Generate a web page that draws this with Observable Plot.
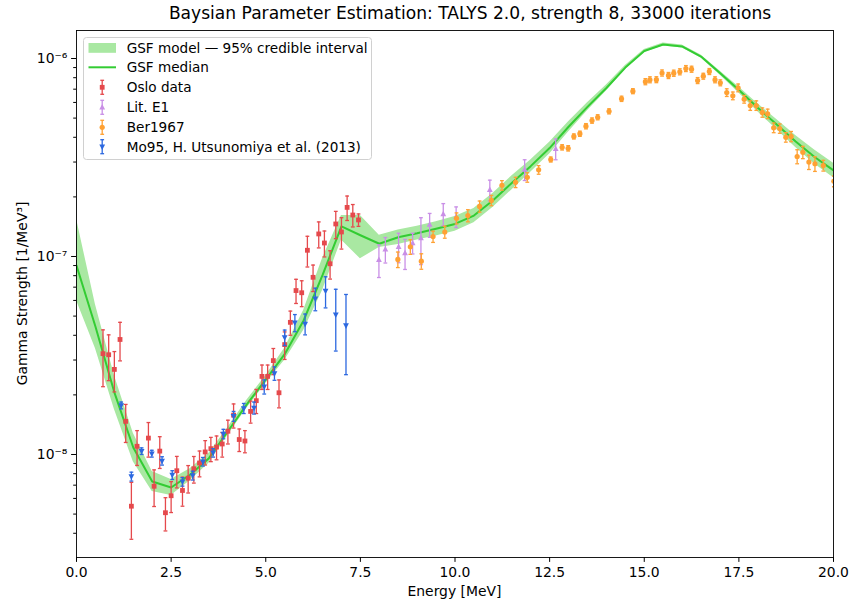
<!DOCTYPE html>
<html><head><meta charset="utf-8">
<script src="https://cdn.jsdelivr.net/npm/d3@7"></script>
<script src="https://cdn.jsdelivr.net/npm/@observablehq/plot@0.6"></script>
<style>
body{margin:0;background:#fff;font-family:"DejaVu Sans",sans-serif;}
#title{position:relative;height:22px;width:852px;}
#title span{position:absolute;left:470px;top:5px;transform:translateX(-50%);font-size:17.1px;white-space:nowrap;color:#000;line-height:1;}
</style></head><body>
<div id="title"><span>Baysian Parameter Estimation: TALYS 2.0, strength 8, 33000 iterations</span></div>
<div id="chart"></div>
<script>
// ---- Model (GSF) on energy grid ----
const modelE = [0,0.5,1,1.5,2,2.5,3,3.5,4,4.5,5,5.5,6,6.5,7,7.5,8,8.5,9,9.5,10,10.5,11,11.5,12,12.5,13,13.5,14,14.5,15,15.5,16,16.5,17,17.5,18,18.5,19,19.5,20];
const modelMed = [9.0e-8,4.43e-8,2.06e-8,1.085e-8,7.3e-9,6.81e-9,7.9e-9,9.58e-9,1.31e-8,1.79e-8,2.39e-8,3.21e-8,4.75e-8,8.05e-8,1.42e-7,1.28e-7,1.16e-7,1.25e-7,1.31e-7,1.38e-7,1.46e-7,1.61e-7,1.92e-7,2.35e-7,2.86e-7,3.53e-7,4.52e-7,5.70e-7,7.1e-7,9.0e-7,1.091e-6,1.177e-6,1.15e-6,1.023e-6,8.45e-7,6.93e-7,5.64e-7,4.64e-7,3.81e-7,3.18e-7,2.72e-7];
const modelLo = [6.0e-8,3.43e-8,1.69e-8,9.2e-9,6.5e-9,6.2e-9,7.37e-9,9.04e-9,1.25e-8,1.71e-8,2.28e-8,2.99e-8,4.23e-8,6.74e-8,1.21e-7,9.74e-8,1.11e-7,1.15e-7,1.21e-7,1.27e-7,1.34e-7,1.48e-7,1.77e-7,2.17e-7,2.66e-7,3.29e-7,4.26e-7,5.44e-7,6.86e-7,8.79e-7,1.072e-6,1.156e-6,1.13e-6,1.005e-6,8.25e-7,6.70e-7,5.38e-7,4.38e-7,3.55e-7,2.93e-7,2.50e-7];
const modelHi = [1.55e-7,5.72e-8,2.51e-8,1.28e-8,8.2e-9,7.48e-9,8.47e-9,1.015e-8,1.37e-8,1.88e-8,2.50e-8,3.44e-8,5.34e-8,9.77e-8,1.61e-7,1.61e-7,1.28e-7,1.36e-7,1.42e-7,1.50e-7,1.59e-7,1.75e-7,2.08e-7,2.55e-7,3.07e-7,3.78e-7,4.79e-7,5.97e-7,7.35e-7,9.22e-7,1.11e-6,1.198e-6,1.17e-6,1.041e-6,8.65e-7,7.17e-7,5.91e-7,4.92e-7,4.08e-7,3.45e-7,2.96e-7];

// ---- Oslo data ----
const osloE = [0.70,0.85,1.00,1.15,1.30,1.45,1.60,1.90,2.05,2.20,2.35,2.50,2.65,2.80,2.95,3.10,3.25,3.40,3.55,3.70,3.85,4.00,4.15,4.30,4.45,4.60,4.75,4.90,5.05,5.20,5.35,5.50,5.65,5.80,5.95,6.10,6.25,6.40,6.55,6.70,6.85,7.00,7.15,7.30,7.45];
const osloV = [3.23e-8,3.19e-8,2.69e-8,3.81e-8,1.47e-8,5.48e-9,1.10e-8,1.21e-8,6.91e-9,1.04e-8,5.08e-9,6.19e-9,8.28e-9,6.58e-9,7.59e-9,8.47e-9,9.06e-9,1.03e-8,1.07e-8,1.09e-8,1.13e-8,1.31e-8,1.58e-8,1.19e-8,1.17e-8,1.65e-8,1.87e-8,2.48e-8,2.48e-8,2.98e-8,2.05e-8,3.59e-8,4.65e-8,6.73e-8,6.56e-8,1.075e-7,7.85e-8,1.30e-7,1.17e-7,9.19e-8,1.46e-7,1.33e-7,1.77e-7,1.62e-7,1.53e-7];
const osloErr = [1.03e-8,8.3e-9,6.2e-9,8.4e-9,3.2e-9,1.75e-9,2.2e-9,2.4e-9,1.45e-9,1.9e-9,9.7e-10,1.1e-9,1.5e-9,1.1e-9,1.2e-9,1.3e-9,1.35e-9,1.45e-9,1.5e-9,1.5e-9,1.6e-9,1.8e-9,2.2e-9,1.55e-9,1.5e-9,2.1e-9,2.6e-9,3.5e-9,3.5e-9,4.5e-9,3.3e-9,5.7e-9,6.5e-9,9.4e-9,9.8e-9,1.9e-8,1.2e-8,1.95e-8,1.75e-8,1.5e-8,2.3e-8,2.4e-8,2.5e-8,2.1e-8,1.1e-8];

// ---- Lit. E1 ----
const litE = [7.99,8.16,8.51,8.68,8.88,9.10,9.33,9.69,10.03,10.92,11.84,12.66];
const litV = [9.63e-8,1.087e-7,1.12e-7,1.04e-7,1.17e-7,1.24e-7,1.45e-7,1.64e-7,1.59e-7,2.17e-7,2.75e-7,3.50e-7];
const litErr = [1.8e-8,1.6e-8,1.9e-8,1.8e-8,1.4e-8,3.3e-8,2.0e-8,2.1e-8,1.9e-8,2.6e-8,3.3e-8,4.2e-8];

// ---- Ber1967 ----
const berE = [8.49,8.82,9.11,9.42,9.73,10.04,10.34,10.65,10.96,11.24,11.60,11.91,12.21,12.53,12.83,12.99,13.14,13.30,13.46,13.62,13.77,14.07,14.40,14.70,15.03,15.15,15.32,15.47,15.64,15.78,15.94,16.10,16.25,16.41,16.56,16.72,16.87,17.01,17.18,17.34,17.48,17.64,17.80,17.96,18.12,18.26,18.42,18.58,18.74,18.88,19.04,19.19,19.35,19.51,19.73,20.01];
const berV = [9.66e-8,1.12e-7,9.47e-8,1.26e-7,1.33e-7,1.56e-7,1.61e-7,1.79e-7,1.92e-7,2.29e-7,2.37e-7,2.51e-7,2.74e-7,3.09e-7,3.56e-7,3.52e-7,4.04e-7,4.17e-7,4.55e-7,4.86e-7,5.05e-7,5.41e-7,6.26e-7,6.84e-7,7.64e-7,7.81e-7,7.82e-7,8.45e-7,8.21e-7,8.43e-7,8.57e-7,8.90e-7,8.83e-7,7.74e-7,8.14e-7,8.60e-7,7.81e-7,7.54e-7,6.73e-7,6.48e-7,7.11e-7,6.23e-7,5.79e-7,5.79e-7,5.34e-7,5.26e-7,4.47e-7,4.43e-7,4.00e-7,4.04e-7,3.20e-7,3.36e-7,3.00e-7,2.94e-7,2.88e-7,2.40e-7];
const berErr = [8.7e-9,9.5e-9,8.5e-9,8.2e-9,9.3e-9,1.0e-8,1.13e-8,1.16e-8,1.15e-8,1.26e-8,1.42e-8,1.38e-8,1.37e-8,9e-9,1.1e-8,1.1e-8,1.2e-8,1.25e-8,1.4e-8,1.5e-8,1.5e-8,1.6e-8,1.9e-8,2.0e-8,2.7e-8,2.7e-8,2.7e-8,3.0e-8,2.9e-8,3.0e-8,3.0e-8,3.1e-8,3.1e-8,2.7e-8,2.8e-8,3.0e-8,2.7e-8,2.6e-8,3.0e-8,2.9e-8,3.2e-8,2.8e-8,3.2e-8,3.2e-8,2.9e-8,2.9e-8,2.5e-8,2.4e-8,2.2e-8,2.4e-8,2.6e-8,2.4e-8,2.5e-8,2.5e-8,1.8e-8,1.5e-8];

// ---- Mo95, H. Utsunomiya et al. (2013) ----
const moE = [1.18,1.45,1.72,1.99,2.26,2.53,2.80,3.07,3.34,3.61,3.88,4.15,4.42,4.69,4.96,5.23,5.50,5.77,6.04,6.31,6.58,6.85,7.12];
const moV = [1.77e-8,7.74e-9,1.04e-8,1.01e-8,9.29e-9,7.88e-9,7.28e-9,7.83e-9,9.20e-9,1.02e-8,1.27e-8,1.56e-8,1.71e-8,1.72e-8,2.20e-8,2.57e-8,3.90e-8,4.63e-8,4.57e-8,6.12e-8,6.70e-8,5.08e-8,4.48e-8];
const moErr = [7e-10,4e-10,4e-10,4e-10,4.5e-10,4e-10,3.6e-10,4e-10,4.6e-10,5e-10,7e-10,9e-10,1.0e-9,1.2e-9,1.8e-9,2.0e-9,3.5e-9,4.6e-9,5.5e-9,8.0e-9,1.2e-8,1.75e-8,1.95e-8];

// ---- Axis ticks ----
const xTicks = [0,2.5,5,7.5,10,12.5,15,17.5,20];
const yMajor = [1e-8,1e-7,1e-6];
const yMinor = [4e-9,5e-9,6e-9,7e-9,8e-9,9e-9,2e-8,3e-8,4e-8,5e-8,6e-8,7e-8,8e-8,9e-8,2e-7,3e-7,4e-7,5e-7,6e-7,7e-7,8e-7,9e-7];
const yLabels = ["10\u207B\u2078","10\u207B\u2077","10\u207B\u2076"];

const model = modelE.map((E,i)=>({E, med: modelMed[i], lo: modelLo[i], hi: modelHi[i]}));
const mk = (Es, Vs, Errs) => Es.map((E,i)=>({E, v: Vs[i], lo: Vs[i]-Errs[i], hi: Vs[i]+Errs[i]}));
const oslo = mk(osloE, osloV, osloErr);
const lit = mk(litE, litV, litErr);
const ber = mk(berE, berV, berErr);
const mo = mk(moE, moV, moErr);

const C = {band:"#a9e8a2", med:"#33cc33", oslo:"#e5494c", lit:"#c98fe6", ber:"#ffa133", mo:"#2c68e0"};

const capSym = {draw(ctx, size){const w=Math.sqrt(size/Math.PI); ctx.moveTo(-w,0); ctx.lineTo(w,0);}};
const sqSym = {draw(ctx, size){const h=Math.sqrt(size/Math.PI); ctx.rect(-h,-h,2*h,2*h);}};
const triUp = {draw(ctx, size){const r=Math.sqrt(size/Math.PI); ctx.moveTo(0,-r*1.15); ctx.lineTo(r,r*0.75); ctx.lineTo(-r,r*0.75); ctx.closePath();}};
const triDown = {draw(ctx, size){const r=Math.sqrt(size/Math.PI); ctx.moveTo(0,r*1.15); ctx.lineTo(r,-r*0.75); ctx.lineTo(-r,-r*0.75); ctx.closePath();}};
const circSym = {draw(ctx, size){const r=Math.sqrt(size/Math.PI); ctx.moveTo(r,0); ctx.arc(0,0,r,0,2*Math.PI);}};

function errMarks(data, color, sym, r){
  return [
    Plot.ruleX(data, {x:"E", y1:"lo", y2:"hi", stroke: color, strokeWidth: 1.3, clip: true}),
    Plot.dot(data, {x:"E", y:"lo", symbol: capSym, r: 1.9, stroke: color, fill: "none", strokeWidth: 1.3, clip: true}),
    Plot.dot(data, {x:"E", y:"hi", symbol: capSym, r: 1.9, stroke: color, fill: "none", strokeWidth: 1.3, clip: true}),
    Plot.dot(data, {x:"E", y:"v", symbol: sym, r, fill: color, stroke: "none", clip: true})
  ];
}

const plot = Plot.plot({
  width: 852, height: 577,
  marginTop: 8, marginBottom: 42, marginLeft: 76, marginRight: 19,
  style: {fontFamily: "'DejaVu Sans', sans-serif", fontSize: "13.9px", background: "white", color: "black", overflow: "visible"},
  x: {domain: [0,20], label: null},
  y: {type: "log", domain: [3.018e-9, 1.385e-6], label: null},
  marks: [
    Plot.areaY(model, {x:"E", y1:"lo", y2:"hi", fill: C.band, clip: true}),
    Plot.lineY(model, {x:"E", y:"med", stroke: C.med, strokeWidth: 2, clip: true}),
    ...errMarks(oslo, C.oslo, sqSym, 2.4),
    ...errMarks(lit, C.lit, triUp, 2.9),
    ...errMarks(ber, C.ber, circSym, 2.6),
    ...errMarks(mo, C.mo, triDown, 2.9),
    Plot.axisX({ticks: xTicks, tickFormat: d => d.toFixed(1), tickSize: 4.9, tickPadding: 4.8, label: null, fontSize: "13.9px"}),
    Plot.axisY({ticks: yMajor, tickFormat: d => yLabels[Math.round(Math.log10(d)) + 8], tickSize: 4.9, tickPadding: 4.2, label: null, fontSize: "13.9px"}),
    Plot.axisY({ticks: yMinor, tickFormat: () => "", tickSize: 2.8, label: null}),
    Plot.frame({stroke: "black", strokeWidth: 0.9})
  ]
});
document.getElementById("chart").appendChild(plot);

// axis labels & legend (page y minus 22 = svg y)
const svg = d3.select(plot);
const OFF = 22;
svg.append("text").attr("x", 454.5).attr("y", 596 - OFF).attr("text-anchor","middle")
  .attr("font-size","13.9px").attr("fill","black").text("Energy [MeV]");
svg.append("text").attr("transform", `translate(22,${293.5-OFF}) rotate(-90)`).attr("text-anchor","middle")
  .attr("dominant-baseline","central").attr("font-size","13.9px").attr("fill","black").text("Gamma Strength [1/MeV\u00B3]");

const lg = svg.append("g").attr("text-anchor","start");
lg.append("rect").attr("x",83.5).attr("y",37.5-OFF).attr("width",288).attr("height",122).attr("rx",3)
  .attr("fill","white").attr("fill-opacity",0.8).attr("stroke","#d0d0d0").attr("stroke-width",1);
lg.append("rect").attr("x",88.5).attr("y",43-OFF).attr("width",27.5).attr("height",9.8).attr("fill",C.band);
lg.append("line").attr("x1",88.5).attr("x2",116).attr("y1",67.3-OFF).attr("y2",67.3-OFF).attr("stroke",C.med).attr("stroke-width",2);
const entries = [
  {label:"GSF model \u2014 95% credible interval", y:48},
  {label:"GSF median", y:67.3},
  {label:"Oslo data", y:87.3, color:C.oslo, sym:sqSym, r:2.4},
  {label:"Lit. E1", y:107.3, color:C.lit, sym:triUp, r:2.9},
  {label:"Ber1967", y:127.3, color:C.ber, sym:circSym, r:2.6},
  {label:"Mo95, H. Utsunomiya et al. (2013)", y:146.7, color:C.mo, sym:triDown, r:2.9}
];
for (const e of entries){
  const cy = e.y - OFF;
  if (e.color){
    const cx = 102.2;
    lg.append("line").attr("x1",cx).attr("x2",cx).attr("y1",cy-7).attr("y2",cy+7).attr("stroke",e.color).attr("stroke-width",1.3);
    lg.append("line").attr("x1",cx-1.9).attr("x2",cx+1.9).attr("y1",cy-7).attr("y2",cy-7).attr("stroke",e.color).attr("stroke-width",1.3);
    lg.append("line").attr("x1",cx-1.9).attr("x2",cx+1.9).attr("y1",cy+7).attr("y2",cy+7).attr("stroke",e.color).attr("stroke-width",1.3);
    lg.append("path").attr("transform",`translate(${cx},${cy})`).attr("fill",e.color)
      .attr("d", d3.symbol(e.sym, Math.PI*e.r*e.r)());
  }
  lg.append("text").attr("x",126.7).attr("y",cy).attr("dominant-baseline","central").attr("text-anchor","start")
    .attr("font-size","13.6px").attr("fill","black").text(e.label);
}
</script>
</body></html>
